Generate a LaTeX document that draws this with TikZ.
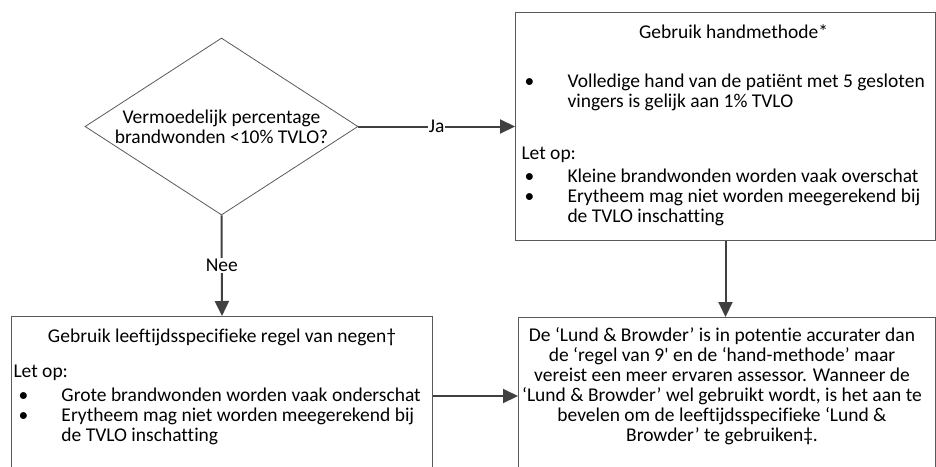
\documentclass[tikz,border=0pt]{standalone}
\usepackage{fontspec}
\setmainfont{Carlito}[Ligatures=NoCommon]
\usetikzlibrary{shapes.geometric, arrows.meta}
\definecolor{randgrijs}{HTML}{595959}
\definecolor{pijlgrijs}{HTML}{404040}

\begin{document}
\begin{tikzpicture}[x=1pt, y=-1pt,
    font=\fontsize{19.5}{20}\selectfont,
    kader/.style={draw=randgrijs, line width=1pt, rectangle, inner sep=0pt, anchor=north west},
    ruit/.style={draw=randgrijs, line width=0.8pt, diamond, aspect=1.54, minimum width=273pt,
                 minimum height=177pt, inner sep=0pt, align=center},
    pijl/.style={draw=pijlgrijs, line width=2pt, -{Triangle[length=15pt,width=14pt]}},
    pijltekst/.style={fill=white, inner sep=1pt}]

    \clip (0,0) rectangle (936,466);

    % beslissing
    \node[ruit] (vraag) at (221.5,126.5) {Vermoedelijk percentage\\brandwonden <10\% TVLO?};

    % handmethode
    \node[kader] (hand) at (515,12) {\begin{minipage}[c][228pt][t]{420pt}
        \rule{0pt}{26pt}\makebox[420pt]{\hspace{16pt}Gebruik handmethode*}\\[29pt]
        \makebox[52pt][l]{\hspace*{9pt}•}Volledige hand van de patiënt met 5 gesloten\\
        \hspace*{52pt}vingers is gelijk aan 1\% TVLO\\[32pt]
        \hspace*{6pt}Let op:\\[3pt]
        \makebox[52pt][l]{\hspace*{9pt}•}Kleine brandwonden worden vaak overschat\\
        \makebox[52pt][l]{\hspace*{9pt}•}Erytheem mag niet worden meegerekend bij\\
        \hspace*{52pt}de TVLO inschatting
    \end{minipage}};

    % regel van negen
    \node[kader] (negen) at (11,316) {\begin{minipage}[c][159pt][t]{421pt}
        \rule{0pt}{26pt}\makebox[421pt]{Gebruik leeftijdsspecifieke regel van negen†}\\[15pt]
        \hspace*{2pt}Let op:\\[4pt]
        \makebox[50pt][l]{\hspace*{7pt}•}Grote brandwonden worden vaak onderschat\\
        \makebox[50pt][l]{\hspace*{7pt}•}Erytheem mag niet worden meegerekend bij\\
        \hspace*{50pt}de TVLO inschatting
    \end{minipage}};

    % lund en browder
    \node[kader] (lund) at (518,317) {\begin{minipage}[c][158pt][t]{417pt}
        \centering\rightskip=10pt plus 1fil
        \rule{0pt}{24pt}De ‘Lund \& Browder’ is in potentie accurater dan\\
        de ‘regel van 9\textquotesingle{} en de ‘hand-methode’ maar\\
        vereist een meer ervaren assessor. Wanneer de\\
        ‘Lund \& Browder’ wel gebruikt wordt, is het aan te\\
        bevelen om de leeftijdsspecifieke ‘Lund \&\\
        Browder’ te gebruiken‡.
    \end{minipage}};

    % verbindingen
    \draw[pijl] (vraag.east) -- node[pijltekst] {Ja} (vraag.east -| hand.west);
    \draw[pijl] (vraag.south) -- node[pijltekst] {Nee} (negen.north);
    \draw[pijl] (hand.south) -- (hand.south |- lund.north);
    \draw[pijl] (negen.east) -- (negen.east -| lund.west);
\end{tikzpicture}
\end{document}
